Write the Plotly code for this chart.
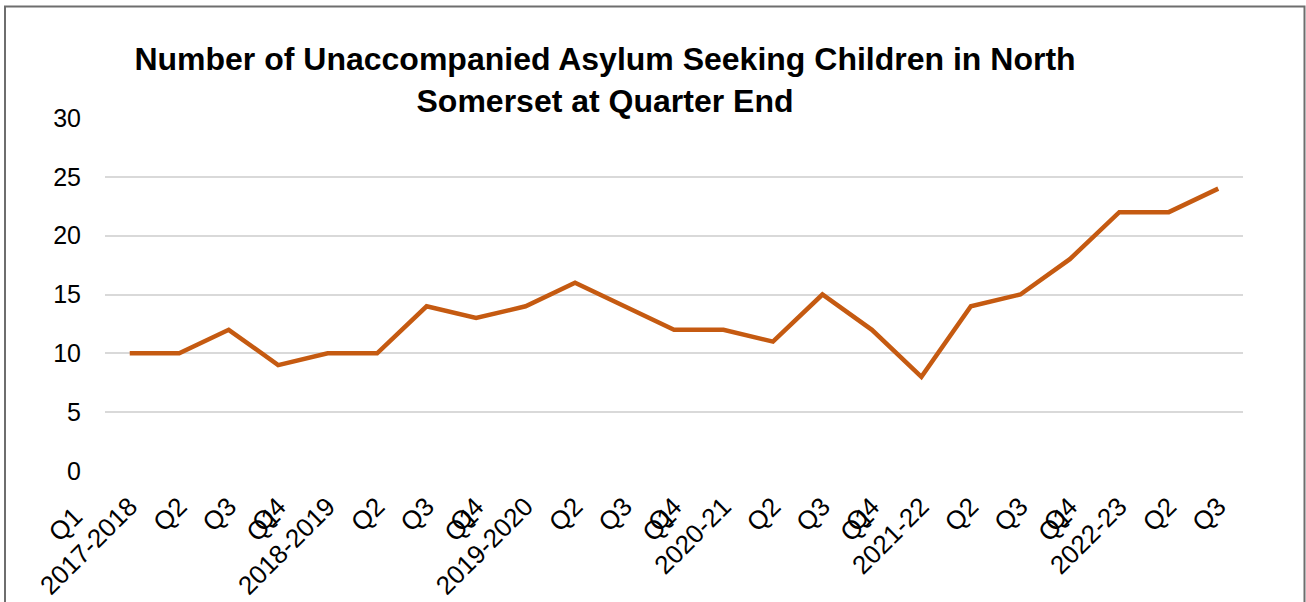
import plotly.graph_objects as go

quarters = ["Q1", "Q2", "Q3", "Q4",
            "Q1", "Q2", "Q3", "Q4",
            "Q1", "Q2", "Q3", "Q4",
            "Q1", "Q2", "Q3", "Q4",
            "Q1", "Q2", "Q3", "Q4",
            "Q1", "Q2", "Q3"]
years = ["2017-2018", "", "", "",
         "2018-2019", "", "", "",
         "2019-2020", "", "", "",
         "2020-21", "", "", "",
         "2021-22", "", "", "",
         "2022-23", "", ""]
values = [10, 10, 12, 9, 10, 10, 14, 13, 14, 16, 14, 12,
          12, 11, 15, 12, 8, 14, 15, 18, 22, 22, 24]

idx = list(range(len(values)))
# main axis: year label at Q1 points, quarter elsewhere
main_text = [y if y else q for q, y in zip(quarters, years)]
# secondary axis: the "Q1" line that sits above the year label
q1_vals = [i for i, y in zip(idx, years) if y]
q1_text = [quarters[i] for i in q1_vals]

W, H = 1306, 602
L, R, T, B = 105, 63, 118, 131

fig = go.Figure()
fig.add_trace(go.Scatter(x=idx, y=values, mode="lines",
                         line=dict(color="#C55A11", width=4.5),
                         hoverinfo="skip"))
fig.add_trace(go.Scatter(x=idx, y=values, mode="lines", xaxis="x2",
                         line=dict(color="rgba(0,0,0,0)", width=0),
                         hoverinfo="skip"))

pw = W - L - R
ph = H - T - B
def px(xp):
    return (xp - L) / pw
def py(yp):
    return (H - B - yp) / ph

fig.add_shape(type="rect", xref="paper", yref="paper",
              x0=px(5), x1=px(1304.5), y0=py(650), y1=py(6.5),
              line=dict(color="#6e6e6e", width=2), fillcolor="rgba(0,0,0,0)",
              layer="below")

xr = [-0.5, len(values) - 0.5]
fig.update_layout(
    width=W, height=H,
    margin=dict(l=L, r=R, t=T, b=B, autoexpand=False),
    paper_bgcolor="white", plot_bgcolor="white",
    showlegend=False,
    font=dict(family="Liberation Sans, Arial, sans-serif", color="black"),
    title=dict(text="<b>Number of Unaccompanied Asylum Seeking Children in North<br>Somerset at Quarter End</b>",
               x=605 / W, xanchor="center", xref="container",
               y=1 - 70 / H, yanchor="top", yref="container",
               font=dict(size=32, color="black", family="Liberation Sans, Arial, sans-serif")),
    xaxis=dict(tickmode="array", tickvals=idx, ticktext=main_text,
               range=xr, tickangle=-45, automargin=False,
               ticks="outside", ticklen=9, tickcolor="rgba(0,0,0,0)",
               showgrid=False, zeroline=False, showline=False,
               tickfont=dict(size=26, color="black")),
    xaxis2=dict(tickmode="array", tickvals=q1_vals, ticktext=q1_text,
                range=xr, tickangle=-45, overlaying="x", side="bottom",
                anchor="y", ticklabelshift=-55, automargin=False,
                ticks="outside", ticklen=19, tickcolor="rgba(0,0,0,0)",
                showgrid=False, zeroline=False, showline=False,
                tickfont=dict(size=26, color="black")),
    yaxis=dict(range=[0, 30], dtick=5, showgrid=True, gridcolor="#d9d9d9",
               gridwidth=2, zeroline=False, showline=False, ticks="",
               automargin=False,
               tickfont=dict(size=25, color="black"), ticklabelstandoff=23),
)

fig.write_html("out.html")
